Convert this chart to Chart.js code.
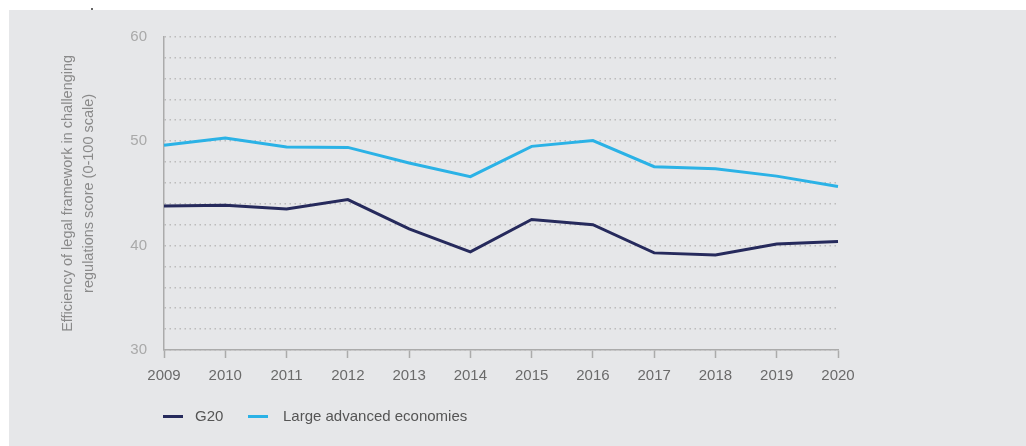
<!DOCTYPE html>
<html>
<head>
<meta charset="utf-8">
<script src="https://cdn.jsdelivr.net/npm/chart.js@4.4.1/dist/chart.umd.min.js"></script>
<style>
  html, body { margin:0; padding:0; background:#ffffff; width:1026px; height:446px; overflow:hidden; font-family:"Liberation Sans", Arial, sans-serif; }
  #panel { position:absolute; left:9px; top:10px; width:1017px; height:436px; background:#e6e7e9; }
  #c { position:absolute; left:0; top:0; }
  .lg-line { position:absolute; height:3px; }
  .lg-text { position:absolute; font-size:15px; color:#555; line-height:18px; }
  #mark { position:absolute; left:91px; top:8px; width:2px; height:5px; background:#666; }
</style>
</head>
<body>
<div id="mark"></div>
<div id="panel">
  <canvas id="c" width="1017" height="436"></canvas>
</div>
<div class="lg-line" style="left:163px; top:415px; width:20px; background:#262a5c;"></div>
<div class="lg-text" style="left:195px; top:407px;">G20</div>
<div class="lg-line" style="left:248px; top:415px; width:20px; background:#2bb2e6;"></div>
<div class="lg-text" style="left:283px; top:407px;">Large advanced economies</div>
<script>
const years = ['2009','2010','2011','2012','2013','2014','2015','2016','2017','2018','2019','2020'];
const g20 = [43.8, 43.85, 43.5, 44.4, 41.6, 39.4, 42.5, 42.0, 39.3, 39.1, 40.15, 40.4];
const largeAdvanced = [49.6, 50.3, 49.45, 49.4, 47.9, 46.6, 49.5, 50.05, 47.55, 47.35, 46.65, 45.65];
const yTickLabels = [30, 40, 50, 60];
const yTitle = ['Efficiency of legal framework in challenging', 'regulations score (0-100 scale)'];

const axisGray = '#ababab';
new Chart(document.getElementById('c'), {
  type: 'line',
  data: {
    labels: years,
    datasets: [
      { label: 'G20', data: g20, borderColor: '#262a5c', borderWidth: 3, pointRadius: 0, tension: 0, fill: false },
      { label: 'Large advanced economies', data: largeAdvanced, borderColor: '#2bb2e6', borderWidth: 3, pointRadius: 0, tension: 0, fill: false }
    ]
  },
  options: {
    responsive: false,
    animation: false,
    devicePixelRatio: 1,
    layout: { padding: { left: 48, top: 26.7, right: 188, bottom: 56 } },
    plugins: { legend: { display: false }, tooltip: { enabled: false } },
    scales: {
      x: {
        offset: false,
        grid: { display: true, drawOnChartArea: false, drawTicks: true, tickLength: 8, tickColor: axisGray, tickWidth: 1.5 },
        border: { display: true, color: axisGray, width: 1.5 },
        ticks: { color: '#6a6a6a', font: { family: 'Liberation Sans', size: 15 }, padding: 9, maxRotation: 0, autoSkip: false },
        afterFit: s => { s.height = 40; }
      },
      y: {
        min: 30, max: 60,
        grid: { color: '#bcbcbc', lineWidth: 1.5, drawTicks: false },
        border: { display: true, color: axisGray, width: 1.5, dash: [1.5, 3.5] },
        ticks: {
          stepSize: 2, maxTicksLimit: 20, autoSkip: false, padding: 17, color: '#a9a9a9', font: { family: 'Liberation Sans', size: 15 },
          callback: v => yTickLabels.includes(v) ? String(v) : ''
        },
        title: { display: true, text: yTitle, color: '#8a8a8a', font: { family: 'Liberation Sans', size: 14.5, lineHeight: 1.45 }, padding: 0 },
        afterFit: s => { s.width = 107; }
      }
    }
  }
});
</script>
</body>
</html>
